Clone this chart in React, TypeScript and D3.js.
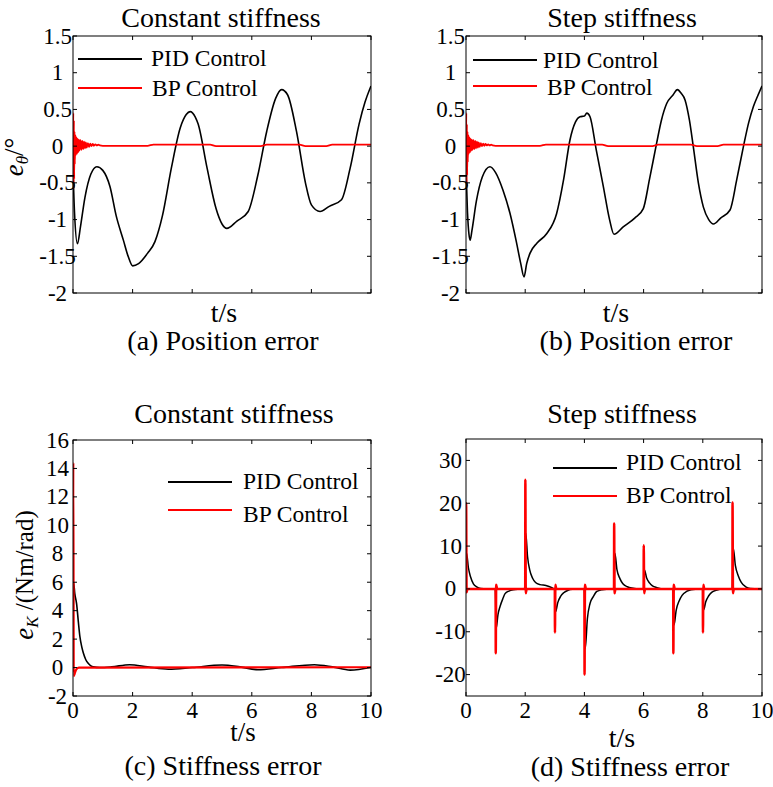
import React from "react";
import * as d3 from "d3";

type Pt = [number, number];

const xTicks = [0, 2, 4, 6, 8, 10];
const posYTicks = [-2, -1.5, -1, -0.5, 0, 0.5, 1, 1.5];
const stiffCYTicks = [-2, 0, 2, 4, 6, 8, 10, 12, 14, 16];
const stiffDYTicks = [-20, -10, 0, 10, 20, 30];

// (a) Position error, constant stiffness
const pidA: Pt[] = [
  [0, -0.3], [0.05, -0.9], [0.15, -1.33], [0.25, -1.1], [0.4, -0.7], [0.6, -0.38], [0.8, -0.28],
  [1.0, -0.33], [1.24, -0.55], [1.45, -0.95], [1.69, -1.28], [1.85, -1.5], [2.0, -1.63], [2.2, -1.6],
  [2.5, -1.46], [2.75, -1.3], [3.0, -0.95], [3.3, -0.3], [3.6, 0.25], [3.8, 0.43], [3.93, 0.47],
  [4.1, 0.4], [4.2, 0.3], [4.5, -0.3], [4.8, -0.85], [5.0, -1.06], [5.16, -1.12], [5.5, -1.02],
  [5.88, -0.89], [6.2, -0.4], [6.5, 0.2], [6.8, 0.65], [7.0, 0.77], [7.2, 0.7], [7.5, 0.2],
  [7.8, -0.5], [8.0, -0.8], [8.29, -0.89], [8.6, -0.82], [9.01, -0.73], [9.3, -0.3], [9.6, 0.3],
  [9.8, 0.6], [10, 0.82],
];
const bpA: Pt[] = [
  [0, 0], [0.01, 0.45], [0.02, -0.58], [0.03, 0.35], [0.04, -0.45], [0.05, 0.2], [0.06, -0.25],
  [0.08, 0.15], [0.1, -0.12], [0.12, 0.12], [0.14, -0.1], [0.16, 0.1], [0.18, -0.08], [0.2, 0.09],
  [0.22, -0.06], [0.25, 0.08], [0.28, -0.05], [0.31, 0.07], [0.34, -0.04], [0.37, 0.06], [0.4, -0.03],
  [0.43, 0.05], [0.46, -0.02], [0.5, 0.04], [0.54, -0.01], [0.58, 0.035], [0.62, 0], [0.66, 0.03],
  [0.7, 0.005], [0.75, 0.025], [0.8, 0.01], [0.85, 0.02], [0.9, 0.01], [1.0, 0.005], [2.5, 0.005],
  [2.7, 0.02], [4.6, 0.02], [4.8, 0.0], [6.3, 0.0], [6.5, 0.02], [7.6, 0.02], [7.8, 0.0], [8.5, 0.0],
  [8.7, 0.02], [10, 0.02],
];

// (b) Position error, step stiffness
const pidB: Pt[] = [
  [0, -0.3], [0.05, -0.9], [0.1, -1.2], [0.14, -1.28], [0.2, -1.15], [0.35, -0.75], [0.55, -0.42],
  [0.81, -0.28], [1.0, -0.36], [1.25, -0.6], [1.49, -0.92], [1.7, -1.3], [1.85, -1.6], [1.96, -1.78],
  [2.05, -1.6], [2.16, -1.46], [2.4, -1.32], [2.73, -1.19], [3.06, -0.92], [3.3, -0.45], [3.51, 0.08],
  [3.7, 0.33], [3.85, 0.4], [4.0, 0.41], [4.08, 0.45], [4.19, 0.4], [4.4, -0.05], [4.64, -0.55],
  [4.85, -1.0], [5.0, -1.2], [5.31, -1.1], [5.7, -0.98], [5.99, -0.85], [6.2, -0.45], [6.44, 0.04],
  [6.6, 0.35], [6.78, 0.58], [7.0, 0.7], [7.14, 0.77], [7.27, 0.72], [7.4, 0.63], [7.55, 0.35],
  [7.68, -0.01], [7.85, -0.5], [8.02, -0.83], [8.2, -1.0], [8.36, -1.06], [8.6, -0.98], [8.92, -0.87],
  [9.15, -0.45], [9.37, -0.01], [9.55, 0.32], [9.71, 0.54], [9.85, 0.68], [10, 0.82],
];
const bpB: Pt[] = [
  [0, 0], [0.01, 0.45], [0.02, -0.55], [0.03, 0.3], [0.04, -0.4], [0.05, 0.2], [0.06, -0.22],
  [0.08, 0.15], [0.1, -0.1], [0.12, 0.12], [0.14, -0.08], [0.16, 0.1], [0.18, -0.06], [0.2, 0.09],
  [0.22, -0.05], [0.25, 0.08], [0.28, -0.04], [0.31, 0.07], [0.34, -0.03], [0.37, 0.06], [0.4, -0.02],
  [0.43, 0.05], [0.46, -0.01], [0.5, 0.04], [0.54, 0], [0.58, 0.035], [0.62, 0.005], [0.66, 0.03],
  [0.7, 0.01], [0.75, 0.025], [0.8, 0.01], [0.85, 0.02], [0.9, 0.01], [1.0, 0.005], [2.5, 0.005],
  [2.7, 0.02], [4.6, 0.02], [4.8, 0.0], [6.3, 0.0], [6.5, 0.02], [7.6, 0.02], [7.8, 0.0], [8.5, 0.0],
  [8.7, 0.02], [10, 0.02],
];

// (c) Stiffness error, constant stiffness
const pidC: Pt[] = [
  [0, 1.5], [0.02, 6.0], [0.06, 5.2], [0.12, 4.5], [0.18, 3.2], [0.23, 2.2], [0.3, 1.4], [0.35, 1.0],
  [0.43, 0.55], [0.51, 0.3], [0.6, 0.12], [0.68, 0.05], [0.9, 0.0], [1.3, 0.05], [1.9, 0.2],
  [2.5, 0.05], [3.2, -0.12], [4.0, 0.0], [5.0, 0.18], [5.6, 0.05], [6.2, -0.15], [7.0, 0.0],
  [8.1, 0.2], [8.7, 0.05], [9.3, -0.18], [10, 0.0],
];
const bpC: Pt[] = [
  [0, -0.3], [0.01, 14.4], [0.025, -0.6], [0.06, -0.4], [0.12, -0.1], [0.2, 0.0], [10, 0.02],
];

// (d) Stiffness error, step stiffness
const pidD: Pt[] = [
  [0, 0], [0.02, 8.3], [0.08, 5.0], [0.15, 2.9], [0.25, 1.2], [0.36, 0.5], [0.5, 0.1], [0.7, 0],
  [0.99, 0], [1.02, -9.2], [1.08, -6], [1.15, -4.1], [1.25, -2.2], [1.32, -1.1], [1.45, -0.5], [1.6, -0.2], [1.9, 0],
  [1.99, 0.2], [2.02, 13], [2.08, 7.5], [2.15, 4.5], [2.25, 2.5], [2.35, 1.5], [2.5, 1.0], [2.7, 0.8], [2.9, 0.3], [2.98, 0],
  [3.0, 0], [3.03, -5.3], [3.1, -3.2], [3.2, -1.7], [3.3, -0.9], [3.45, -0.3], [3.6, -0.1], [3.9, 0],
  [4.0, 0], [4.03, -13.9], [4.1, -7], [4.19, -3.4], [4.3, -1.8], [4.42, -0.6], [4.6, -0.2], [4.9, 0],
  [5.0, 0], [5.03, 8.3], [5.1, 4.5], [5.2, 2.4], [5.3, 1.2], [5.45, 0.5], [5.6, 0.2], [5.9, 0],
  [6.0, 0], [6.03, 4.4], [6.1, 2.6], [6.2, 1.4], [6.3, 0.7], [6.45, 0.3], [6.7, 0],
  [7.0, 0], [7.03, -8.4], [7.1, -5], [7.2, -2.8], [7.3, -1.5], [7.45, -0.6], [7.6, -0.2], [7.9, 0],
  [8.0, 0], [8.03, -4.9], [8.1, -3], [8.2, -1.6], [8.3, -0.8], [8.45, -0.3], [8.7, 0],
  [9.0, 0], [9.03, 9.5], [9.1, 5.5], [9.2, 3], [9.3, 1.5], [9.45, 0.5], [9.6, 0.1], [9.9, 0], [10, 0],
];
const bpStepTimes = [0, 1, 2, 3, 4, 5, 6, 7, 8, 9];
const bpStepPeaks = [20, -15, 25.5, -10.2, -20, 15.3, 10.2, -15, -10.2, 20.2];
const bpBlip = [-0.8, 1, -1, 1, 1, -1, -1, 1, 1, -1];

const bpD: Pt[] = (() => {
  const out: Pt[] = [];
  bpStepTimes.forEach((t, i) => {
    if (t > 0) out.push([t - 0.03, 0]);
    out.push([t, 0]);
    out.push([t + 0.005, bpStepPeaks[i]]);
    out.push([t + 0.02, bpBlip[i]]);
    out.push([t + 0.05, 0]);
  });
  out.push([10, 0]);
  return out;
})();

const FONT = "Liberation Serif, Times New Roman, Times, serif";

type Series = { data: Pt[]; color: string; width: number };

interface PanelProps {
  L: number; R: number; T: number; B: number;
  yDomain: [number, number];
  yTicks: number[];
  xLabels: boolean;
  series: Series[];
  id: string;
}

function Panel({ L, R, T, B, yDomain, yTicks, xLabels, series, id }: PanelProps) {
  const x = d3.scaleLinear().domain([0, 10]).range([L, R]);
  const y = d3.scaleLinear().domain(yDomain).range([B, T]);
  const line = d3.line<Pt>().x((d) => x(d[0])).y((d) => y(d[1])).curve(d3.curveMonotoneX);
  const tl = 4;
  return (
    <g>
      <defs>
        <clipPath id={id}>
          <rect x={L} y={T} width={R - L} height={B - T} />
        </clipPath>
      </defs>
      <g clipPath={`url(#${id})`}>
        {series.map((s, i) => (
          <path key={i} d={line(s.data) || ""} fill="none" stroke={s.color} strokeWidth={s.width} strokeLinejoin="round" />
        ))}
      </g>
      <rect x={L} y={T} width={R - L} height={B - T} fill="none" stroke="#000" strokeWidth={1} />
      {yTicks.map((v) => (
        <g key={"y" + v}>
          <line x1={L} x2={L + tl} y1={y(v)} y2={y(v)} stroke="#000" />
          <line x1={R} x2={R - tl} y1={y(v)} y2={y(v)} stroke="#000" />
          <text x={L - 15.5} y={y(v) + 7.5} textAnchor="middle" style={{ fontFamily: FONT, fontSize: 23 }}>
            {String(v)}
          </text>
        </g>
      ))}
      {xTicks.map((v) => (
        <g key={"x" + v}>
          <line x1={x(v)} x2={x(v)} y1={B} y2={B - tl} stroke="#000" />
          <line x1={x(v)} x2={x(v)} y1={T} y2={T + tl} stroke="#000" />
          {xLabels && (
            <text x={x(v)} y={B + 22} textAnchor="middle" style={{ fontFamily: FONT, fontSize: 23 }}>
              {String(v)}
            </text>
          )}
        </g>
      ))}
    </g>
  );
}

function Legend({ x1, x2, y1, y2, tx1, tx2, b1, b2 }: { x1: number; x2: number; y1: number; y2: number; tx1: number; tx2: number; b1: number; b2: number }) {
  return (
    <g style={{ fontFamily: FONT, fontSize: 23.5 }}>
      <line x1={x1} x2={x2} y1={y1} y2={y1} stroke="#000" strokeWidth={1.8} />
      <text x={tx1} y={b1}>PID Control</text>
      <line x1={x1} x2={x2} y1={y2} y2={y2} stroke="#ff0000" strokeWidth={1.8} />
      <text x={tx2} y={b2}>BP Control</text>
    </g>
  );
}

function T({ x, y, size, children }: { x: number; y: number; size: number; children: React.ReactNode }) {
  return (
    <text x={x} y={y} textAnchor="middle" style={{ fontFamily: FONT, fontSize: size }}>
      {children}
    </text>
  );
}

export default function App() {
  return (
    <svg width={773} height={787} style={{ position: "absolute", left: 0, top: 0, background: "#fff" }}>
      <rect width={773} height={787} fill="#fff" />
      {/* (a) */}
      <T x={221} y={27} size={28}>Constant stiffness</T>
      <Panel id="ca" L={73} R={371} T={36} B={293} yDomain={[-2, 1.5]} yTicks={posYTicks} xLabels={false}
        series={[{ data: pidA, color: "#000", width: 1.6 }, { data: bpA, color: "#ff0000", width: 1.8 }]} />
      <Legend x1={78} x2={142} y1={59} y2={88} tx1={151} tx2={152} b1={66} b2={96} />
      <g transform="translate(23,157) rotate(-90)">
        <text textAnchor="middle" style={{ fontFamily: FONT }}>
          <tspan fontStyle="italic" fontSize={27}>e</tspan>
          <tspan fontStyle="italic" fontSize={17} dy={5}>θ</tspan>
          <tspan fontSize={27} dy={-5}>/°</tspan>
        </text>
      </g>
      <T x={224} y={322} size={28}>t/s</T>
      <T x={223} y={350} size={28}>(a) Position error</T>

      {/* (b) */}
      <T x={622} y={27} size={28}>Step stiffness</T>
      <Panel id="cb" L={466} R={762} T={36} B={293} yDomain={[-2, 1.5]} yTicks={posYTicks} xLabels={false}
        series={[{ data: pidB, color: "#000", width: 1.6 }, { data: bpB, color: "#ff0000", width: 1.8 }]} />
      <Legend x1={473} x2={537} y1={60} y2={86} tx1={543} tx2={547} b1={68} b2={95} />
      <T x={616} y={322} size={28}>t/s</T>
      <T x={636} y={350} size={28}>(b) Position error</T>

      {/* (c) */}
      <T x={234} y={423} size={28}>Constant stiffness</T>
      <Panel id="cc" L={73} R={371} T={440} B={696} yDomain={[-2, 16]} yTicks={stiffCYTicks} xLabels={true}
        series={[{ data: pidC, color: "#000", width: 1.6 }, { data: bpC, color: "#ff0000", width: 2.2 }]} />
      <Legend x1={168} x2={232} y1={482} y2={510} tx1={243} tx2={243} b1={489} b2={522} />
      <g transform="translate(33,575) rotate(-90)">
        <text textAnchor="middle" style={{ fontFamily: FONT }}>
          <tspan fontStyle="italic" fontSize={27}>e</tspan>
          <tspan fontStyle="italic" fontSize={17} dy={5}>K</tspan>
          <tspan fontSize={25} dy={-5}> /(Nm/rad)</tspan>
        </text>
      </g>
      <T x={243} y={741} size={27}>t/s</T>
      <T x={223} y={775} size={28}>(c) Stiffness error</T>

      {/* (d) */}
      <T x={622} y={423} size={28}>Step stiffness</T>
      <Panel id="cd" L={466} R={762} T={439} B={696} yDomain={[-25, 35]} yTicks={stiffDYTicks} xLabels={true}
        series={[{ data: pidD, color: "#000", width: 1.5 }, { data: bpD, color: "#ff0000", width: 2.5 }]} />
      <Legend x1={553} x2={617} y1={468} y2={496} tx1={626} tx2={626} b1={470} b2={503} />
      <T x={622} y={747} size={28}>t/s</T>
      <T x={630} y={776} size={28}>(d) Stiffness error</T>
    </svg>
  );
}
